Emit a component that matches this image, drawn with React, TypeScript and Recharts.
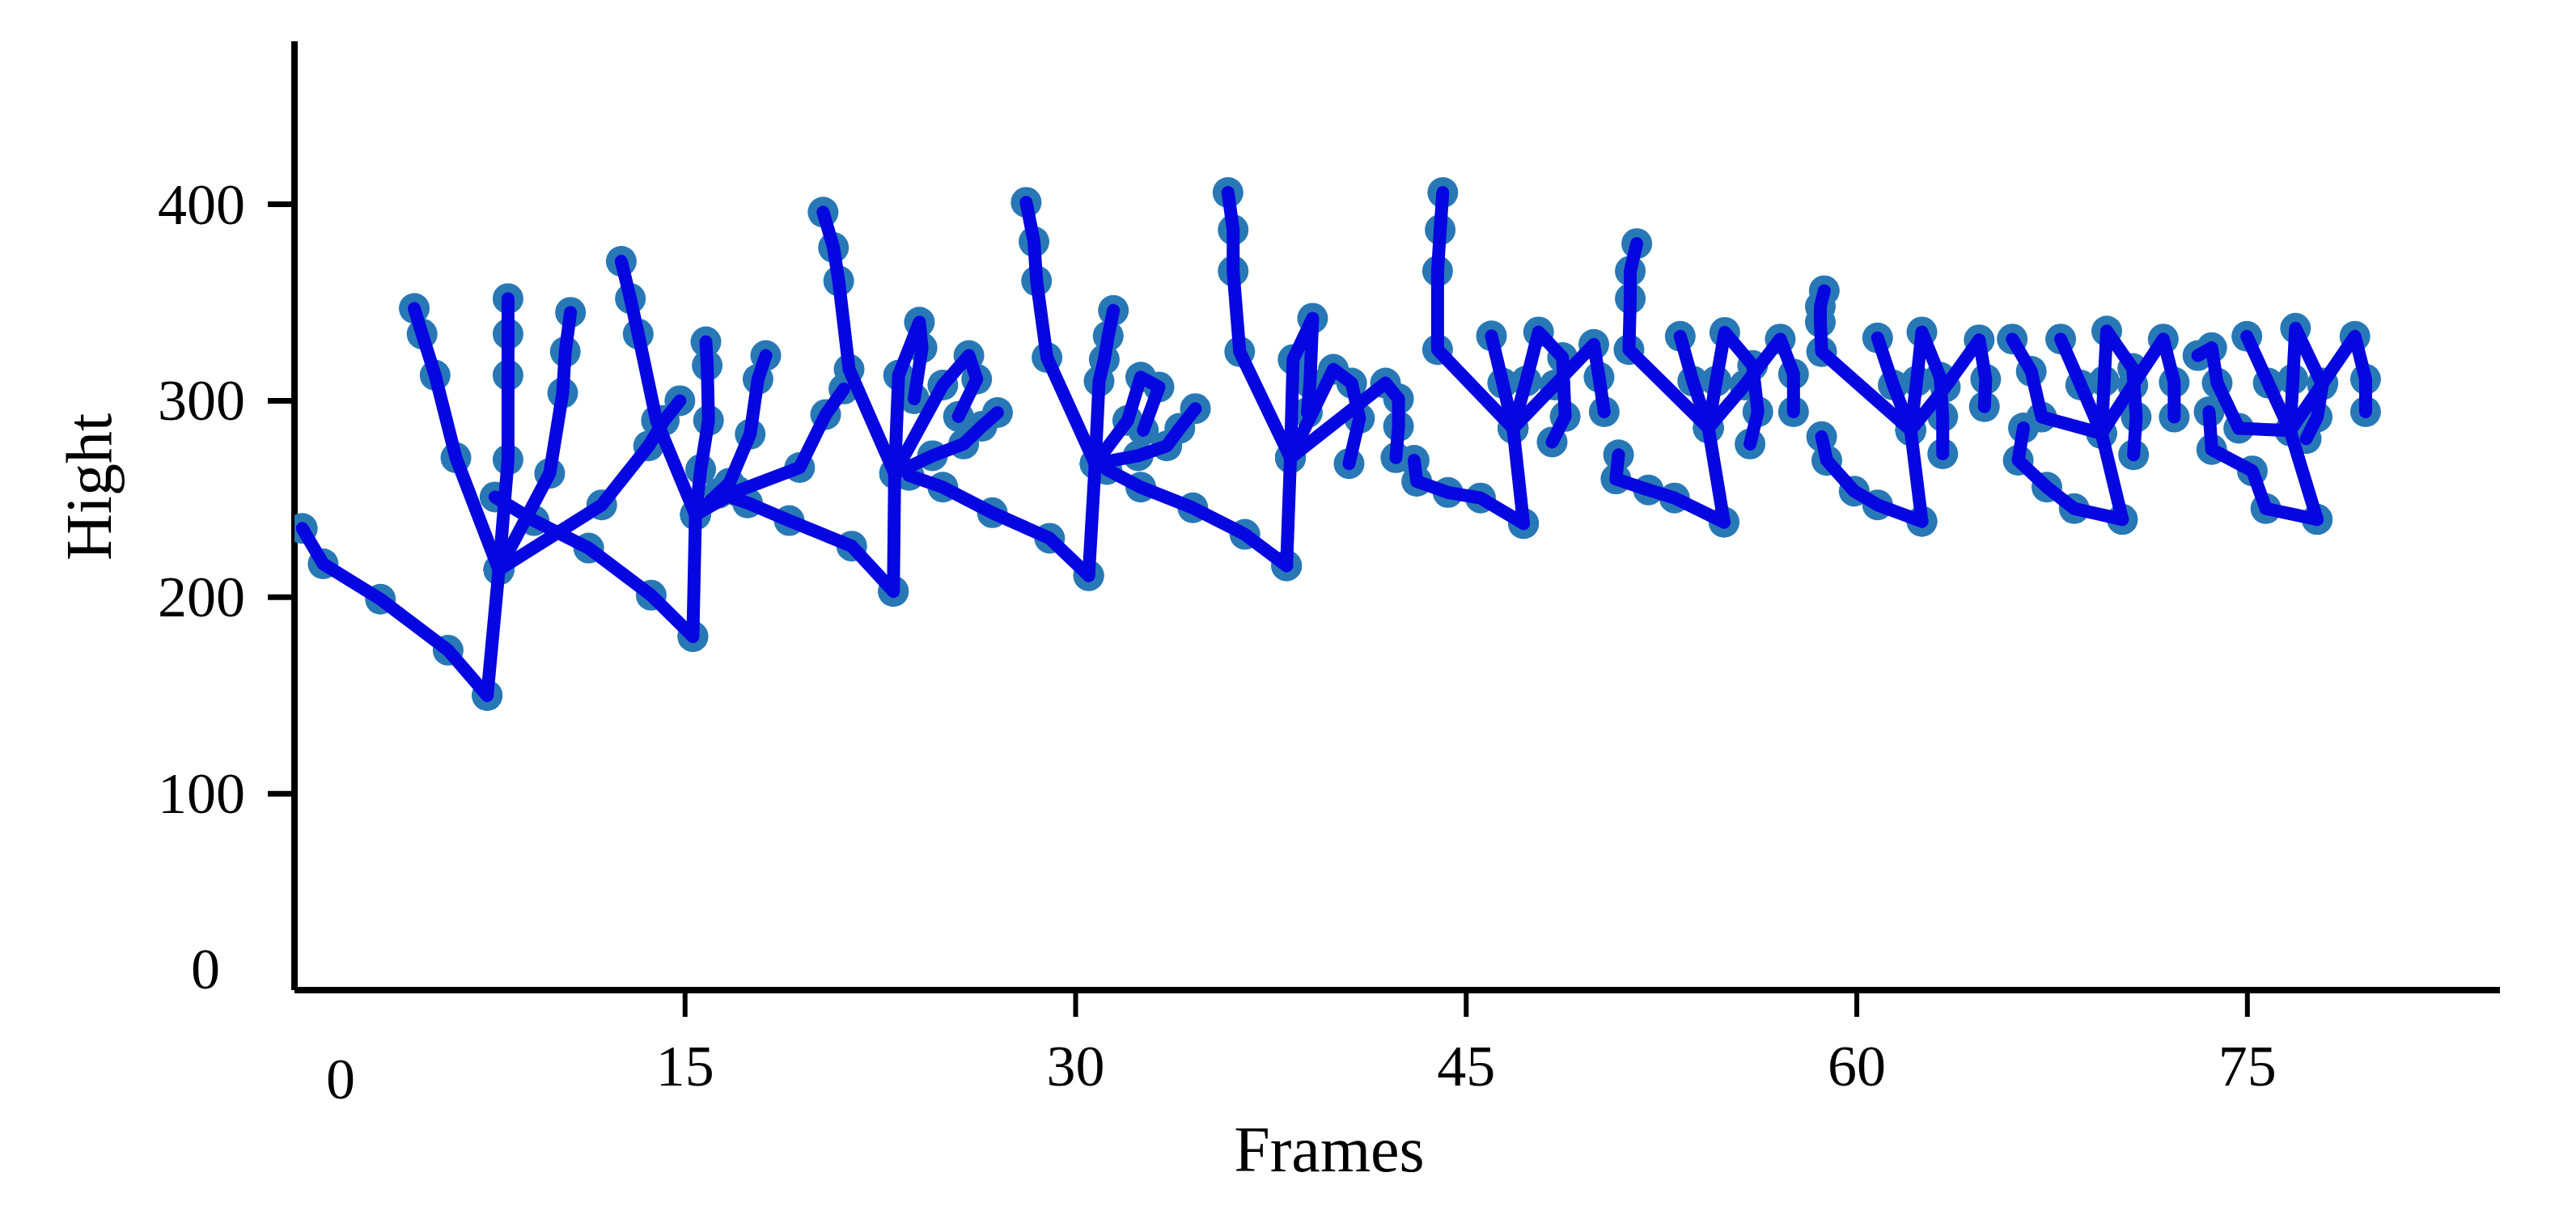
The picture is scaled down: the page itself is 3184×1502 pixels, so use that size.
import React from 'react';
import { ScatterChart, Scatter, XAxis, YAxis } from 'recharts';

type P = [number, number];

const xTicks = [0, 15, 30, 45, 60, 75];
const yTicks = [0, 100, 200, 300, 400];

// every hand: thumb (from wrist), wrist -> palm, then four fingers from the palm
const hand1: P[][] = [
  [[7.4, 150], [5.9, 173], [3.3, 199], [1.1, 217], [0.3, 235]],
  [[7.4, 150], [7.85, 214]],
  [[7.85, 214], [6.2, 271], [5.4, 313], [4.9, 334], [4.6, 347]],
  [[7.85, 214], [8.2, 270], [8.2, 313], [8.2, 334], [8.2, 352]],
  [[7.85, 214], [9.8, 263], [10.3, 304], [10.4, 325], [10.6, 345]],
  [[7.85, 214], [11.8, 247], [13.6, 277], [14.2, 290], [14.8, 300]],
];
const hand2: P[][] = [
  [[15.3, 180], [13.7, 201], [11.3, 225], [9.2, 239], [7.7, 251]],
  [[15.3, 180], [15.4, 242]],
  [[15.4, 242], [13.9, 290], [13.2, 334], [12.9, 352], [12.55, 371]],
  [[15.4, 242], [15.6, 265], [15.9, 290], [15.85, 318], [15.8, 330]],
  [[15.4, 242], [16.7, 258], [17.5, 283], [17.8, 311], [18.1, 323]],
  [[15.4, 242], [17.0, 254], [19.4, 266], [20.4, 293], [21.1, 306]],
];
const hand3: P[][] = [
  [[23.0, 203], [21.4, 226], [19.0, 239], [17.4, 248], [16.3, 253]],
  [[23.0, 203], [23.05, 263]],
  [[23.05, 263], [21.3, 316], [20.9, 361], [20.7, 378], [20.3, 396]],
  [[23.05, 263], [23.2, 313], [24.0, 340], [24.1, 327], [23.8, 301]],
  [[23.05, 263], [24.9, 308], [25.9, 323], [26.2, 311], [25.5, 292]],
  [[23.05, 263], [24.5, 272], [25.7, 278], [26.4, 287], [27.0, 294]],
];
const hand4: P[][] = [
  [[30.5, 211], [29.0, 230], [26.8, 243], [24.9, 256], [23.6, 262]],
  [[30.5, 211], [30.75, 268]],
  [[30.75, 268], [28.9, 322], [28.5, 361], [28.4, 381], [28.1, 401]],
  [[30.75, 268], [30.9, 310], [31.1, 321], [31.25, 333], [31.45, 346]],
  [[30.75, 268], [32.0, 290], [32.5, 312], [33.2, 307], [32.6, 285]],
  [[30.75, 268], [32.4, 272], [33.5, 277], [34.0, 286], [34.6, 296]],
];
const hand5: P[][] = [
  [[38.1, 216], [36.5, 232], [34.5, 245.5], [32.5, 256], [31.2, 265]],
  [[38.1, 216], [38.25, 271]],
  [[38.25, 271], [36.3, 325], [36.05, 366], [36.05, 387], [35.85, 406]],
  [[38.25, 271], [38.35, 321], [39.1, 342], [39.0, 309], [38.9, 294]],
  [[38.25, 271], [39.9, 316], [40.6, 309], [40.9, 291], [40.5, 268]],
  [[38.25, 271], [41.9, 309], [42.4, 301], [42.4, 287], [42.3, 271]],
];
const hand6: P[][] = [
  [[47.2, 237.5], [45.55, 250.5], [44.3, 253.3], [43.1, 259], [43.0, 269.7]],
  [[47.2, 237.5], [46.8, 286]],
  [[46.8, 286], [43.9, 326], [43.9, 366], [44.0, 387], [44.1, 406]],
  [[46.8, 286], [46.4, 309], [45.97, 333]],
  [[46.8, 286], [47.3, 310], [47.78, 335], [48.7, 322], [48.8, 292], [48.3, 279]],
  [[46.8, 286], [48.4, 308], [49.9, 328.7], [50.1, 312], [50.3, 294.4]],
];
const hand7: P[][] = [
  [[54.9, 238.2], [53.0, 250.5], [52.0, 254.6], [50.75, 260.2], [50.85, 272.5]],
  [[54.9, 238.2], [54.3, 286.2]],
  [[54.3, 286.2], [51.25, 326], [51.3, 352], [51.3, 366], [51.55, 380]],
  [[54.3, 286.2], [53.7, 310], [53.22, 332.8]],
  [[54.3, 286.2], [54.6, 310], [54.93, 334.8], [56.0, 318], [56.2, 294.4], [55.9, 278]],
  [[54.3, 286.2], [55.7, 308], [57.06, 331.4], [57.57, 313.6], [57.57, 294.4]],
];
const hand8: P[][] = [
  [[62.5, 238.6], [60.8, 247], [59.9, 254], [58.85, 269.6], [58.65, 281.7]],
  [[62.5, 238.6], [62.07, 285]],
  [[62.07, 285], [58.65, 325], [58.6, 340], [58.6, 348], [58.75, 356]],
  [[62.07, 285], [61.4, 308], [60.8, 332]],
  [[62.07, 285], [62.3, 310], [62.5, 335], [63.2, 312], [63.3, 292], [63.3, 273]],
  [[62.07, 285], [63.4, 307], [64.7, 331], [64.95, 311], [64.9, 297]],
];
const hand9: P[][] = [
  [[70.2, 239.6], [68.35, 245.1], [67.3, 256], [66.2, 269.7], [66.4, 286.2]],
  [[70.2, 239.6], [69.4, 283.4]],
  [[69.4, 283.4], [67.1, 291.7], [66.7, 315], [65.97, 331.4]],
  [[69.4, 283.4], [68.6, 308], [67.83, 331.4]],
  [[69.4, 283.4], [69.5, 310], [69.6, 335.5], [70.6, 316.4], [70.73, 291.7], [70.63, 272.5]],
  [[69.4, 283.4], [70.6, 308], [71.77, 331.4], [72.19, 309.4], [72.19, 291.7]],
];
const hand10: P[][] = [
  [[77.68, 239.6], [75.71, 245.1], [75.19, 264.3], [73.63, 275.2], [73.53, 294.4]],
  [[77.68, 239.6], [76.64, 284.8]],
  [[76.64, 284.8], [74.67, 286], [73.84, 309], [73.63, 327], [73.1, 323]],
  [[76.64, 284.8], [75.8, 309], [74.98, 332.8]],
  [[76.64, 284.8], [76.75, 311], [76.85, 336.9], [77.88, 308.1], [77.68, 291.7], [77.26, 280.7]],
  [[76.64, 284.8], [77.9, 309], [79.13, 332.8], [79.54, 311], [79.54, 294.4]],
];

const hands = [hand1, hand2, hand3, hand4, hand5, hand6, hand7, hand8, hand9, hand10];

const LINE = '#0606e0';
const DOT = '#2878b6';
const FONT = '"Liberation Serif", "Times New Roman", serif';

const toRows = (pl: P[]) => pl.map(([x, y]) => ({ x, y }));
const polylines = hands.flat().map(toRows);
const allDots = polylines.flat();

function XTick(props: any) {
  const { x, y, payload } = props;
  const v = payload.value;
  if (v === 0) {
    return (
      <text x={x + 57} y={y + 134} textAnchor="middle" fontFamily={FONT} fontSize={72} fill="#000">
        0
      </text>
    );
  }
  return (
    <g>
      <line x1={x} x2={x} y1={y} y2={y + 33} stroke="#000" strokeWidth={6} />
      <text x={x} y={y + 118} textAnchor="middle" fontFamily={FONT} fontSize={72} fill="#000">
        {v}
      </text>
    </g>
  );
}

function YTick(props: any) {
  const { x, y, payload } = props;
  const v = payload.value;
  if (v === 0) {
    return (
      <text x={x - 110} y={y - 2} textAnchor="middle" fontFamily={FONT} fontSize={72} fill="#000">
        0
      </text>
    );
  }
  return (
    <g>
      <line x1={x - 33} x2={x} y1={y} y2={y} stroke="#000" strokeWidth={7} />
      <text x={x - 61} y={y + 24} textAnchor="end" fontFamily={FONT} fontSize={72} fill="#000">
        {v}
      </text>
    </g>
  );
}

const dotShape = (p: any) => <circle cx={p.cx} cy={p.cy} r={19} fill={DOT} />;
const noShape = () => <g />;

// draw the skeleton segment through the points the scatter has already placed
const skeletonLine = (p: any) => {
  const pts = (p.points || []).map((q: any) => `${q.x},${q.y}`).join(' ');
  return (
    <polyline
      points={pts}
      fill="none"
      stroke={LINE}
      strokeWidth={16}
      strokeLinejoin="round"
      strokeLinecap="round"
    />
  );
};

export default function App() {
  return (
    <div style={{ position: 'relative', width: 3184, height: 1502, background: '#fff' }}>
      <style>{'body{margin:0}'}</style>
      <ScatterChart
        width={3184}
        height={1502}
        margin={{ top: 51, right: 94, bottom: 178, left: 264 }}
      >
        <XAxis
          type="number"
          dataKey="x"
          domain={[0, 84.7]}
          ticks={xTicks}
          interval={0}
          height={100}
          tickSize={0}
          tickMargin={0}
          tickLine={false}
          axisLine={{ stroke: '#000', strokeWidth: 8 }}
          tick={<XTick />}
          allowDataOverflow
        />
        <YAxis
          type="number"
          dataKey="y"
          domain={[0, 483]}
          ticks={yTicks}
          interval={0}
          width={100}
          tickSize={0}
          tickMargin={0}
          tickLine={false}
          axisLine={{ stroke: '#000', strokeWidth: 8 }}
          tick={<YTick />}
          allowDataOverflow
        />
        <Scatter data={allDots} shape={dotShape} isAnimationActive={false} />
        {polylines.map((rows, i) => (
          <Scatter
            key={i}
            data={rows}
            shape={noShape}
            line={skeletonLine}
            isAnimationActive={false}
          />
        ))}
      </ScatterChart>
      <svg
        width={3184}
        height={1502}
        style={{ position: 'absolute', left: 0, top: 0, pointerEvents: 'none' }}
      >
        <text
          transform="translate(137,602) rotate(-90)"
          textAnchor="middle"
          fontFamily={FONT}
          fontSize={80}
          fill="#000"
        >
          Hight
        </text>
        <text x={1643} y={1448} textAnchor="middle" fontFamily={FONT} fontSize={80} fill="#000">
          Frames
        </text>
      </svg>
    </div>
  );
}
